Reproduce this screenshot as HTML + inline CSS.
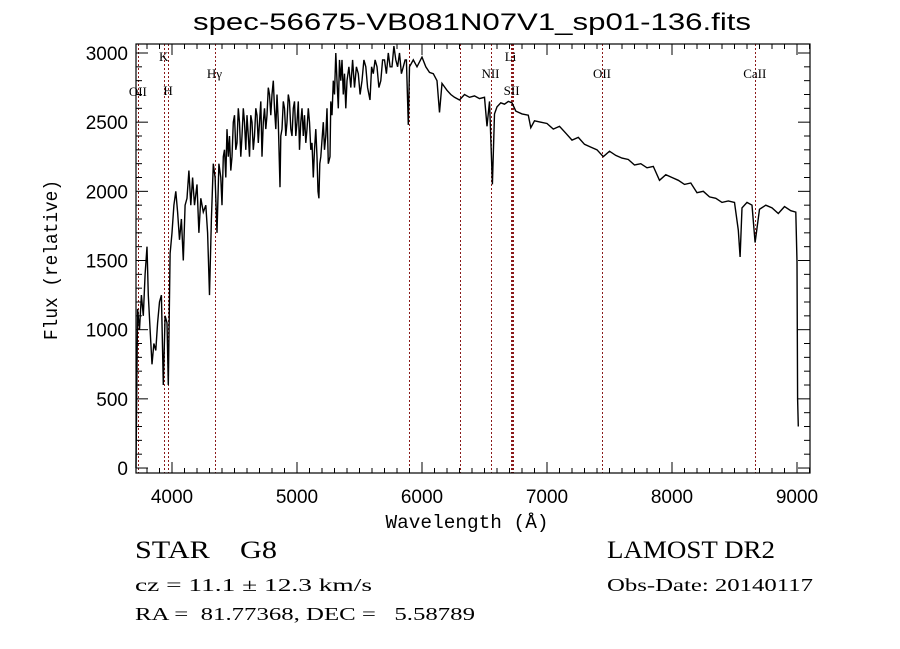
<!DOCTYPE html>
<html><head><meta charset="utf-8"><style>
html,body{margin:0;padding:0;background:#fff;}
svg{display:block;}
</style></head><body>
<svg id="chart" width="900" height="649" viewBox="0 0 900 649" xmlns="http://www.w3.org/2000/svg">
<rect x="0" y="0" width="900" height="649" fill="#fff"/>
<text x="472" y="30" font-family="Liberation Sans, sans-serif" font-size="24" text-anchor="middle" textLength="558" lengthAdjust="spacingAndGlyphs">spec-56675-VB081N07V1_sp01-136.fits</text>
<g id="lines"></g>
<g id="series"></g>
<g id="axes"></g>
<text x="467" y="528" font-family="Liberation Mono, monospace" font-size="19" text-anchor="middle" textLength="163" lengthAdjust="spacingAndGlyphs">Wavelength (Å)</text>
<text transform="translate(57,260) rotate(-90)" font-family="Liberation Mono, monospace" font-size="19" text-anchor="middle" textLength="160" lengthAdjust="spacingAndGlyphs">Flux (relative)</text>
<g font-family="Liberation Serif, serif" fill="#000">
<text x="135" y="558" font-size="25" textLength="142" lengthAdjust="spacingAndGlyphs" xml:space="preserve">STAR    G8</text>
<text x="135" y="591" font-size="18" textLength="237" lengthAdjust="spacingAndGlyphs">cz = 11.1 ± 12.3 km/s</text>
<text x="135" y="620" font-size="18" textLength="340" lengthAdjust="spacingAndGlyphs" xml:space="preserve">RA =  81.77368, DEC =   5.58789</text>
<text x="607" y="558" font-size="25" textLength="168" lengthAdjust="spacingAndGlyphs">LAMOST DR2</text>
<text x="607" y="591" font-size="18" textLength="206" lengthAdjust="spacingAndGlyphs">Obs-Date: 20140117</text>
</g>
</svg>
<script>
const wavelengths = [3712,3715,3725,3740,3755,3770,3785,3800,3810,3825,3840,3855,3870,3885,3900,3915,3930,3945,3960,3970,3985,4000,4015,4030,4045,4060,4075,4090,4105,4120,4135,4150,4165,4180,4200,4215,4230,4250,4270,4285,4300,4315,4330,4345,4360,4375,4390,
4400,4410,4420,4430,4440,4450,4460,4470,4480,4490,4500,4510,4520,4530,4540,4550,4560,4570,4580,4590,4600,4610,4620,4630,4640,4650,4660,4670,4680,4690,4700,4710,4720,4730,4740,4750,4760,4770,4780,4790,4800,4810,4820,4830,4840,4850,4864,4870,4880,4890,4900,4910,4920,4930,4940,4950,4960,4970,4980,4990,5000,5010,5020,5030,5040,5050,5060,5070,5080,5090,5100,5110,5120,5130,5140,5150,5160,5168,5175,5182,5190,
5210,5220,5230,5240,5250,5264,5270,5280,5290,5300,5310,5320,5330,5340,5350,5360,5370,5380,5390,5400,5415,5430,5445,5460,5475,5490,5505,5520,5535,5550,5565,5584,5597,5610,5625,5640,5655,5670,5685,5700,5715,5730,5745,5760,5775,5790,5805,5820,5835,5850,5865,5875,5890,
5900,5930,5960,6000,6030,6060,6090,6120,6140,6160,6200,6230,6260,6300,6340,6380,6420,6460,6500,6520,6540,6563,6580,6600,6630,6660,6690,6720,6750,6800,6850,6870,6900,6950,7000,7050,7100,7150,7200,7250,7300,7350,7400,7450,7500,7550,7600,7650,7700,7750,7800,7850,7900,7950,8000,8050,8100,8150,8200,8250,8300,8350,8400,8450,8500,8530,8545,8560,8600,8640,8665,8700,8750,8800,8850,8900,8950,8990,9000,9005,9010];
const fluxes = [0,300,1150,1000,1250,1100,1400,1600,1250,1000,750,900,850,1050,1200,1250,600,1100,1050,600,1550,1700,1900,2000,1850,1650,1800,1500,1900,1950,2150,1900,2100,1900,2050,1700,1950,1850,1900,1700,1250,1800,2200,2100,1700,2200,2100,
1900,2250,2300,2100,2450,2250,2400,2150,2250,2500,2550,2300,2350,2600,2500,2250,2400,2600,2500,2300,2550,2400,2250,2550,2500,2300,2400,2600,2550,2350,2500,2650,2250,2500,2600,2450,2550,2750,2700,2550,2700,2800,2600,2450,2700,2500,2030,2400,2450,2650,2600,2400,2500,2700,2650,2450,2400,2600,2650,2400,2500,2650,2300,2500,2600,2400,2550,2350,2450,2600,2500,2300,2350,2100,2300,2450,2250,2000,1950,2200,2250,
2500,2300,2400,2600,2200,2250,2650,2550,2800,2700,3000,2800,2600,2950,2800,2950,2700,2850,2600,2800,2900,2750,2950,2750,2900,2850,2700,2800,2950,2900,2750,2660,2900,2850,2950,2900,2750,2800,2950,2950,2850,3000,2900,2900,3050,2950,2900,3000,2850,2900,2950,2950,2480,
2900,2950,2900,2970,2900,2860,2850,2800,2570,2780,2730,2700,2680,2660,2700,2680,2690,2670,2680,2470,2650,2050,2560,2610,2640,2630,2650,2640,2580,2560,2550,2460,2510,2500,2490,2450,2470,2420,2370,2390,2340,2320,2300,2250,2290,2260,2240,2230,2190,2200,2170,2180,2080,2120,2100,2080,2050,2060,1990,2000,1960,1950,1920,1930,1920,1720,1525,1880,1920,1900,1630,1870,1900,1880,1840,1890,1860,1850,1490,500,300];
const xTicks = [4000,5000,6000,7000,8000,9000];
const yTicks = [0,500,1000,1500,2000,2500,3000];
const lineWaves = [3727,3934,3969,4340,5892,6300,6548,6708,6717,6731,7440,8662];
const lineLabels = ["OII","K","H","H\u03b3","NII","Li","SII","OII","CaII"];
const labelWaves = [3727,3934,3969,4340,6548,6708,6717,7440,8662];
const labelYs = [92,57,91,74,74,57,91,74,74];

const NS='http://www.w3.org/2000/svg';
const X0=136,X1=810,Y0=44,Y1=473;
const WMIN=3712,WMAX=9104,FMIN=-36,FMAX=3065;
function xs(w){return X0+(w-WMIN)/(WMAX-WMIN)*(X1-X0);}
function ys(f){return Y1-(f-FMIN)/(FMAX-FMIN)*(Y1-Y0);}
function mk(tag,attrs,parent){const e=document.createElementNS(NS,tag);for(const k in attrs)e.setAttribute(k,attrs[k]);parent.appendChild(e);return e;}

const gl=document.getElementById('lines');
lineWaves.forEach(w=>{
  const x=Math.round(xs(w))+0.5;
  const l=mk('line',{x1:x,x2:x,y1:Y0,y2:Y1,stroke:'#8b1a1a','stroke-width':1,'stroke-dasharray':'2,2'},gl);
  
  
});
lineLabels.forEach((t,i)=>{
  const tx=mk('text',{x:xs(labelWaves[i]),y:labelYs[i]+4,'font-family':'Liberation Serif, serif','font-size':13,'text-anchor':'middle'},gl);
  tx.textContent=t;
  
  
});

const gs=document.getElementById('series');
let d='';
wavelengths.forEach((w,i)=>{d+=(i?'L':'M')+xs(w).toFixed(1)+','+ys(fluxes[i]).toFixed(1);});
const p=mk('path',{d:d,fill:'none',stroke:'#000','stroke-width':1.4,'stroke-linejoin':'miter'},gs);



const ga=document.getElementById('axes');
const fr=mk('rect',{x:X0,y:Y0,width:X1-X0,height:Y1-Y0,fill:'none',stroke:'#000','stroke-width':1.2},ga);


for(let w=3800;w<=9100;w+=100){
  const maj=w%1000===0, len=maj?11:5, x=xs(w);
  mk('line',{x1:x,x2:x,y1:Y1,y2:Y1-len,stroke:'#000'},ga);
  mk('line',{x1:x,x2:x,y1:Y0,y2:Y0+len,stroke:'#000'},ga);
}
for(let f=0;f<=3000;f+=100){
  const maj=f%500===0, len=maj?12:6, y=ys(f);
  mk('line',{x1:X0,x2:X0+len,y1:y,y2:y,stroke:'#000'},ga);
  mk('line',{x1:X1,x2:X1-len,y1:y,y2:y,stroke:'#000'},ga);
}
xTicks.forEach(w=>{
  const t=mk('text',{x:xs(w),y:503,'font-family':'Liberation Sans, sans-serif','font-size':19,'text-anchor':'middle'},ga);
  t.textContent=w;
  
  
});
yTicks.forEach(f=>{
  const t=mk('text',{x:128,y:ys(f)+7,'font-family':'Liberation Sans, sans-serif','font-size':19,'text-anchor':'end'},ga);
  t.textContent=f;
  
  
});
</script>
</body></html>
